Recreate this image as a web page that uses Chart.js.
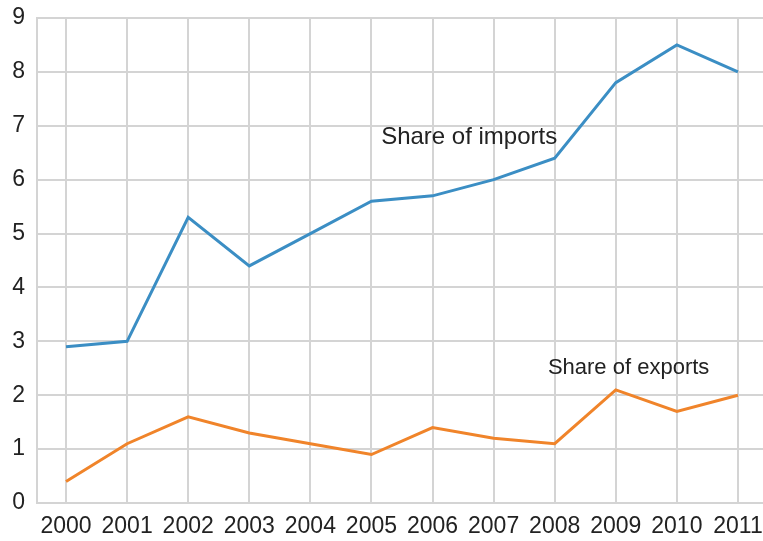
<!DOCTYPE html>
<html>
<head>
<meta charset="utf-8">
<script src="https://cdn.jsdelivr.net/npm/chart.js@4/dist/chart.umd.min.js"></script>
<style>
  html, body { margin: 0; padding: 0; background: #fff; }
  #wrap { width: 763px; height: 541px; }
</style>
</head>
<body>
<div id="wrap"><canvas id="chart" width="763" height="541"></canvas></div>
<script>
// data
const years = [2000, 2001, 2002, 2003, 2004, 2005, 2006, 2007, 2008, 2009, 2010, 2011];
const importsShare = [2.9, 3.0, 5.3, 4.4, 5.0, 5.6, 5.7, 6.0, 6.4, 7.8, 8.5, 8.0];
const exportsShare = [0.4, 1.1, 1.6, 1.3, 1.1, 0.9, 1.4, 1.2, 1.1, 2.1, 1.7, 2.0];
const yTicks = [0, 1, 2, 3, 4, 5, 6, 7, 8, 9];
const seriesNames = ['Share of imports', 'Share of exports'];

const gridColor = '#d4d4d4';
const textColor = '#222';
const fontFamily = '"Liberation Sans", Arial, sans-serif';

// text labels next to the lines, placed in data units
const lineLabels = {
  id: 'lineLabels',
  afterDatasetsDraw(chart) {
    const ctx = chart.ctx;
    const x = chart.scales.x, y = chart.scales.y;
    const spots = [[2006.6, 6.79, 24], [2009.21, 2.5, 22]];
    ctx.save();
    ctx.fillStyle = textColor;
    ctx.textAlign = 'center';
    ctx.textBaseline = 'middle';
    seriesNames.forEach((name, i) => {
      ctx.font = spots[i][2] + 'px ' + fontFamily;
      ctx.fillText(name, x.getPixelForValue(spots[i][0]), y.getPixelForValue(spots[i][1]));
    });
    ctx.restore();
  }
};

new Chart(document.getElementById('chart'), {
  type: 'line',
  data: {
    datasets: [{
      label: seriesNames[0],
      data: years.map((yr, i) => ({ x: yr, y: importsShare[i] })),
      borderColor: '#3b8ec4',
      borderWidth: 3,
      pointRadius: 0,
      tension: 0
    }, {
      label: seriesNames[1],
      data: years.map((yr, i) => ({ x: yr, y: exportsShare[i] })),
      borderColor: '#f0842a',
      borderWidth: 3,
      pointRadius: 0,
      tension: 0
    }]
  },
  options: {
    responsive: false,
    animation: false,
    layout: { padding: { top: 18, right: 0, left: 0, bottom: 0 } },
    plugins: { legend: { display: false }, tooltip: { enabled: false } },
    scales: {
      x: {
        type: 'linear',
        min: 1999.525,
        max: 2011.41,
        afterBuildTicks: axis => { axis.ticks = years.map(v => ({ value: v })); },
        afterFit: axis => {
          axis.height = 38;
          axis.paddingLeft = 0;
          axis.paddingRight = 0;
        },
        grid: { color: gridColor, lineWidth: 2, drawTicks: false },
        border: { color: gridColor, width: 2 },
        ticks: {
          color: textColor,
          font: { family: fontFamily, size: 23 },
          padding: 10,
          maxRotation: 0,
          autoSkip: false,
          callback: v => String(v)
        }
      },
      y: {
        min: 0,
        max: 9,
        afterBuildTicks: axis => { axis.ticks = yTicks.map(v => ({ value: v })); },
        afterFit: axis => {
          axis.width = 37;
          axis.paddingTop = 0;
          axis.paddingBottom = 0;
        },
        grid: { color: gridColor, lineWidth: 2, drawTicks: false },
        border: { color: gridColor, width: 2 },
        ticks: {
          color: textColor,
          font: { family: fontFamily, size: 23 },
          padding: 12
        }
      }
    }
  },
  plugins: [lineLabels]
});
</script>
</body>
</html>
